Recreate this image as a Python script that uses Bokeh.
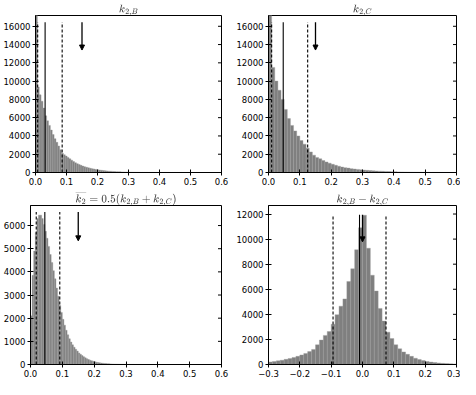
import numpy as np
from bokeh.plotting import figure
from bokeh.models import (Range1d, Arrow, NormalHead, FixedTicker,
                          ColumnDataSource, CustomJSTickFormatter)
from bokeh.layouts import column, row
from bokeh.embed import file_html
from bokeh.resources import INLINE

# ---------------- data ----------------
kB_start, kB_width = 0.0, 0.006
kB_counts = [17500, 9350, 8500, 7800, 7050, 6200, 5650, 5150, 4650, 4150,
             3700, 3300, 2900, 2500, 2100, 1950, 1800, 1650, 1500, 1350,
             1200, 1080, 970, 870, 780, 700, 630, 570, 510, 460,
             420, 380, 340, 300, 270, 240, 215, 190, 170, 150,
             135, 120, 105, 95, 85, 75, 66, 58, 52, 46,
             40, 36, 32, 28, 25, 22, 20, 18, 16, 14,
             12, 11, 10, 9, 8, 7, 6, 6, 5, 5,
             4, 4, 3, 3, 3, 2, 2, 2, 2, 1,
             1, 1, 1, 1, 1, 1, 1, 0, 0, 0]

kC_start, kC_width = 0.0, 0.01
kC_counts = [17500, 11500, 10000, 9000, 8000, 6900, 5900, 5150, 4550, 4000,
             3500, 3100, 2650, 2250, 1900, 1650, 1500, 1300, 1150, 1020,
             900, 790, 690, 600, 530, 480, 420, 380, 340, 300,
             265, 235, 210, 185, 165, 148, 130, 115, 100, 88,
             78, 68, 60, 52, 45, 40, 34, 30, 26, 22,
             19, 16, 14, 12, 10, 9, 8, 7, 6, 5]

kM_start, kM_width = 0.0, 0.005
kM_counts = [2100, 3850, 4900, 5700, 6300, 6450, 6450, 6300, 6050, 5750,
             5450, 5100, 4750, 4400, 4050, 3700, 3300, 2950, 2550, 2250,
             1950, 1700, 1480, 1280, 1110, 970, 850, 750, 660, 580,
             500, 440, 385, 335, 290, 250, 215, 185, 160, 138,
             118, 100, 86, 74, 63, 54, 46, 40, 34, 29,
             25, 21, 18, 15, 13, 11, 9, 8, 7, 6,
             5, 4, 4, 3, 3, 2, 2, 2, 1, 1]

kD_start, kD_width = -0.3, 0.0125
kD_counts = [200, 240, 290, 340, 410, 480, 560, 650, 760, 880,
             1030, 1200, 1570, 1950, 2320, 2630, 3210, 3970, 4650, 5230,
             6620, 7630, 9150, 10900, 11900, 9270, 7120, 5860, 4470, 3460,
             2580, 2070, 1570, 1250, 1000, 810, 650, 500, 400, 310,
             240, 190, 150, 120, 90, 70, 55, 40]

titles = [r"$$k_{2,B}$$", r"$$k_{2,C}$$",
          r"$$\overline{k_2} = 0.5(k_{2,B} + k_{2,C})$$", r"$$k_{2,B} - k_{2,C}$$"]
ci_lo = [0.007, 0.010, 0.018, -0.094]
median = [0.031, 0.047, 0.045, -0.0095]
ci_hi = [0.086, 0.125, 0.092, 0.075]
line_top = [16450, 16450, 6580, 11950]
arrow_x = [0.15, 0.15, 0.15, 0.0]
arrow_tip = [13400, 13400, 5340, 9780]
y_max = [17180, 17180, 6866, 12680]
x_lims = [(0.0, 0.6), (0.0, 0.6), (0.0, 0.6), (-0.3, 0.3)]
x_ticks_pos = [0.0, 0.1, 0.2, 0.3, 0.4, 0.5, 0.6]
x_ticks_diff = [-0.3, -0.2, -0.1, 0.0, 0.1, 0.2, 0.3]
y_ticks_16k = [0, 2000, 4000, 6000, 8000, 10000, 12000, 14000, 16000]
y_ticks_6k = [0, 1000, 2000, 3000, 4000, 5000, 6000]
y_ticks_12k = [0, 2000, 4000, 6000, 8000, 10000, 12000]

hists = [(kB_start, kB_width, kB_counts), (kC_start, kC_width, kC_counts),
         (kM_start, kM_width, kM_counts), (kD_start, kD_width, kD_counts)]
x_tick_sets = [x_ticks_pos, x_ticks_pos, x_ticks_pos, x_ticks_diff]
y_tick_sets = [y_ticks_16k, y_ticks_16k, y_ticks_6k, y_ticks_12k]

FONT = "DejaVu Sans"
FS = "8.5px"

# layout geometry: (width, height, border left, right, top, bottom)
geom = [(233, 190, 30, 12, 10, 18), (227, 190, 31, 4, 10, 18),
        (233, 189, 30, 12, 14, 13), (227, 189, 31, 4, 14, 13)]

xfmt = CustomJSTickFormatter(code="""
    const v = Math.abs(tick) < 1e-9 ? 0 : tick;
    return v < 0 ? "\u2212" + Math.abs(v).toFixed(1) : v.toFixed(1);
""")


def make_panel(i):
    w, h, bl, br, bt, bb = geom[i]
    start, width, counts = hists[i]
    p = figure(width=w, height=h, output_backend="svg", toolbar_location=None,
               x_range=Range1d(*x_lims[i]), y_range=Range1d(0, y_max[i]),
               min_border_left=bl, min_border_right=br,
               min_border_top=bt, min_border_bottom=bb,
               background_fill_color="white", border_fill_color="white")
    p.outline_line_color = "black"
    p.outline_line_width = 1
    p.grid.visible = False

    left = start + width * np.arange(len(counts))
    src = ColumnDataSource(dict(left=left, right=left + width,
                                top=np.array(counts, dtype=float)))
    p.quad(left="left", right="right", top="top", bottom=0, source=src,
           fill_color="#7f7f7f", line_color="#9c9c9c", line_width=0.4)

    dsrc = ColumnDataSource(dict(x=[ci_lo[i], ci_hi[i]], y0=[0, 0],
                                 y1=[line_top[i], line_top[i]]))
    p.segment(x0="x", y0="y0", x1="x", y1="y1", source=dsrc,
              line_color="black", line_width=1.1, line_dash="3 2")
    msrc = ColumnDataSource(dict(x=[median[i]], y0=[0], y1=[line_top[i]]))
    p.segment(x0="x", y0="y0", x1="x", y1="y1", source=msrc,
              line_color="black", line_width=1.1)

    p.add_layout(Arrow(end=NormalHead(size=5, fill_color="black", line_color="black",
                                      line_width=1),
                       x_start=arrow_x[i], y_start=line_top[i],
                       x_end=arrow_x[i], y_end=arrow_tip[i],
                       line_color="black", line_width=1.3))

    # right-hand tick marks (no labels), as dash markers on the right spine
    yt = y_tick_sets[i]
    tsrc = ColumnDataSource(dict(x=[x_lims[i][1]] * len(yt), y=yt))
    p.scatter(x="x", y="y", source=tsrc, marker="dash", size=7,
              line_color="black", line_width=1)

    # axes
    for ax in (p.xaxis[0], p.yaxis[0]):
        ax.major_tick_in = 3
        ax.major_tick_out = 3
        ax.minor_tick_line_color = None
        ax.major_label_text_font = FONT
        ax.major_label_text_font_size = FS
        ax.major_label_text_color = "black"
        ax.major_label_standoff = 2
        ax.axis_line_color = "black"
        ax.major_tick_line_color = "black"
    p.xaxis[0].ticker = FixedTicker(ticks=x_tick_sets[i])
    p.xaxis[0].formatter = xfmt
    p.yaxis[0].ticker = FixedTicker(ticks=y_tick_sets[i])

    p.title.text = titles[i]
    p.title.align = "center"
    p.title.text_font = FONT
    p.title.text_font_size = "9px"
    p.title.text_font_style = "normal"
    p.title.standoff = 0
    p.title.offset = 0
    return p


panels = [make_panel(i) for i in range(4)]
layout = column(row(panels[0], panels[1], spacing=0),
                row(panels[2], panels[3], spacing=0), spacing=0)

open("out.html", "w").write(file_html(layout, INLINE))
